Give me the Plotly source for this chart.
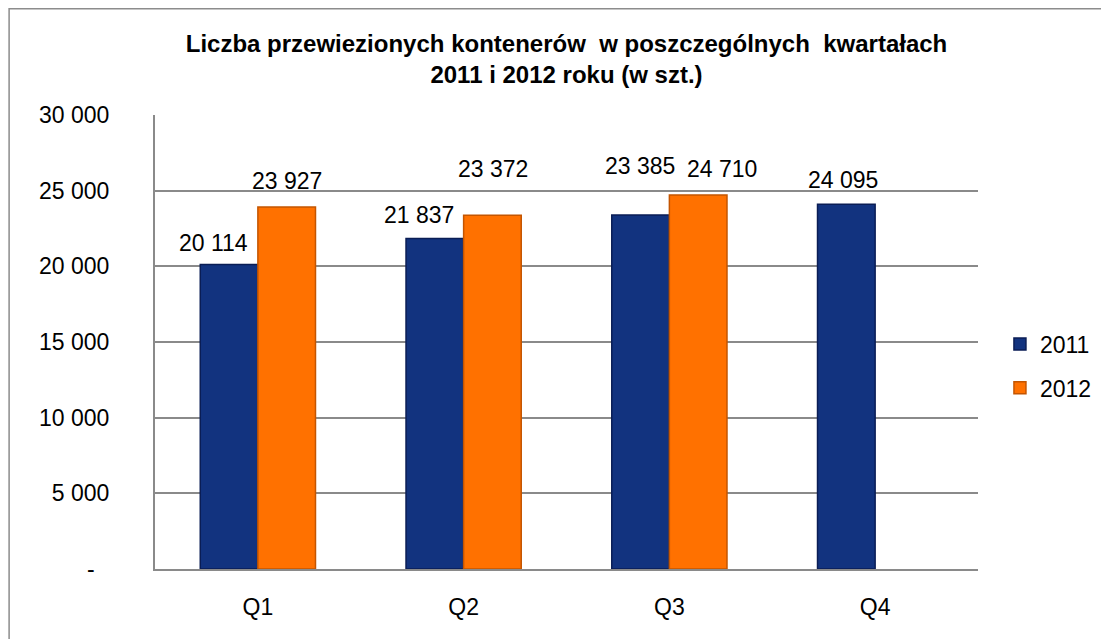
import plotly.graph_objects as go

categories = ["Q1", "Q2", "Q3", "Q4"]
values_2011 = [20114, 21837, 23385, 24095]
values_2012 = [23927, 23372, 24710, None]
label_lift_2011 = [7, 9, 34, 9]
label_lift_2012 = [11, 31, 11, 0]
label_nudge_2011 = [-15, -16, 0, -3]
label_nudge_2012 = [0, 0, 24, 0]

tick_vals = [0, 5000, 10000, 15000, 20000, 25000, 30000]
tick_text = ["-\u00a0\u00a0\u200a", "5 000", "10 000", "15 000", "20 000", "25 000", "30 000"]

title_text = "Liczba przewiezionych kontenerów  w poszczególnych  kwartałach<br>2011 i 2012 roku (w szt.)"

FONT = "Liberation Sans, Arial, sans-serif"
W, H = 1101, 631
L, R, T, B = 147, 129, 107, 70
PW, PH = W - L - R, H - T - B
HALF = 29
FS = 23

def fmt(v):
    return f"{v:,}".replace(",", " ")

fig = go.Figure()
fig.add_trace(go.Bar(
    name="2011", x=categories, y=values_2011,
    marker=dict(color="#12337f", line=dict(color="#0a1d55", width=1.5)),
    legendgroup="a",
))
fig.add_trace(go.Bar(
    name="2012", x=categories, y=values_2012,
    marker=dict(color="#ff7100", line=dict(color="#c45500", width=1.5)),
    legendgroup="b",
))

annotations = []
for cat, v, lift, nudge in zip(categories, values_2011, label_lift_2011, label_nudge_2011):
    if v is not None:
        annotations.append(dict(x=cat, y=v, text=fmt(v), xref="x", yref="y",
                                xshift=-HALF + nudge, yshift=lift, yanchor="bottom",
                                showarrow=False, font=dict(size=FS, color="#000", family=FONT)))
for cat, v, lift, nudge in zip(categories, values_2012, label_lift_2012, label_nudge_2012):
    if v is not None:
        annotations.append(dict(x=cat, y=v, text=fmt(v), xref="x", yref="y",
                                xshift=HALF + nudge, yshift=lift, yanchor="bottom",
                                showarrow=False, font=dict(size=FS, color="#000", family=FONT)))

fig.update_layout(
    width=W, height=H,
    margin=dict(l=L, r=R, t=T, b=B),
    paper_bgcolor="white", plot_bgcolor="white",
    font=dict(family=FONT, size=FS, color="#000"),
    barmode="group", bargap=0.44, bargroupgap=0,
    title=dict(text="<b>" + title_text + "</b>", x=0.5, xref="paper",
               y=1 - 44 / H, yref="container", yanchor="middle", xanchor="center",
               font=dict(size=24, family=FONT, color="#000")),
    legend=dict(x=(994 - L) / PW, y=(H - B - 358) / PH, xanchor="left", yanchor="middle",
                font=dict(size=FS, family=FONT), tracegroupgap=11,
                itemwidth=30, bgcolor="rgba(0,0,0,0)"),
    annotations=annotations,
    shapes=[dict(type="rect", xref="paper", yref="paper",
                 x0=(0.75 - L) / PW, x1=1.3, y0=-0.3, y1=(H - B - 0.75) / PH,
                 line=dict(color="#8c8c8c", width=1.5), layer="below")],
)
fig.update_xaxes(showline=True, linecolor="#8a8a8a", linewidth=2, ticks="",
                 ticklabelstandoff=16, tickfont=dict(size=FS), showgrid=False)
fig.update_yaxes(range=[0, 30000], tickvals=tick_vals, ticktext=tick_text,
                 showline=True, linecolor="#8a8a8a", linewidth=2,
                 showgrid=True, gridcolor="#8a8a8a", gridwidth=1.5,
                 ticks="", ticklabelstandoff=39, tickfont=dict(size=FS), zeroline=False)

fig.write_html("out.html")
